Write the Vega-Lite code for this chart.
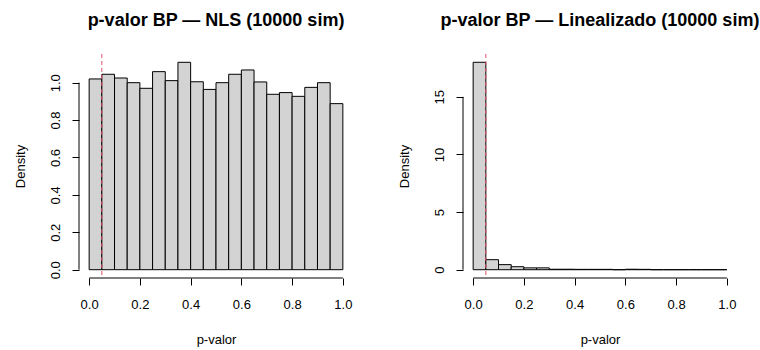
{
  "$schema": "https://vega.github.io/schema/vega-lite/v6.json",
  "background": "white",
  "padding": {"left": 14, "top": 11, "right": 5, "bottom": 5},
  "bounds": "flush",
  "spacing": 110,
  "config": {
    "view": {"stroke": null},
    "font": "Liberation Sans",
    "axis": {"grid": false, "domain": false, "tickColor": "black", "tickSize": 7, "labelFont": "Liberation Sans", "labelFontSize": 13, "labelColor": "black", "titleFont": "Liberation Sans", "titleFontSize": 13, "titleFontWeight": "normal", "titleColor": "black", "labelFlush": false, "labelOverlap": false},
    "axisX": {"labelPadding": 13, "titlePadding": 22},
    "axisY": {"labelAngle": 270, "labelAlign": "center", "labelBaseline": "bottom", "labelPadding": 10, "titlePadding": 22},
    "title": {"font": "Liberation Sans", "fontSize": 18, "fontWeight": "bold", "color": "black", "anchor": "middle", "offset": 24}
  },
  "datasets": {
    "nls": [
      {"bin_start": 0.00, "bin_end": 0.05, "density": 1.020},
      {"bin_start": 0.05, "bin_end": 0.10, "density": 1.045},
      {"bin_start": 0.10, "bin_end": 0.15, "density": 1.025},
      {"bin_start": 0.15, "bin_end": 0.20, "density": 1.000},
      {"bin_start": 0.20, "bin_end": 0.25, "density": 0.970},
      {"bin_start": 0.25, "bin_end": 0.30, "density": 1.059},
      {"bin_start": 0.30, "bin_end": 0.35, "density": 1.011},
      {"bin_start": 0.35, "bin_end": 0.40, "density": 1.109},
      {"bin_start": 0.40, "bin_end": 0.45, "density": 1.005},
      {"bin_start": 0.45, "bin_end": 0.50, "density": 0.964},
      {"bin_start": 0.50, "bin_end": 0.55, "density": 1.000},
      {"bin_start": 0.55, "bin_end": 0.60, "density": 1.045},
      {"bin_start": 0.60, "bin_end": 0.65, "density": 1.068},
      {"bin_start": 0.65, "bin_end": 0.70, "density": 1.004},
      {"bin_start": 0.70, "bin_end": 0.75, "density": 0.938},
      {"bin_start": 0.75, "bin_end": 0.80, "density": 0.947},
      {"bin_start": 0.80, "bin_end": 0.85, "density": 0.927},
      {"bin_start": 0.85, "bin_end": 0.90, "density": 0.975},
      {"bin_start": 0.90, "bin_end": 0.95, "density": 1.000},
      {"bin_start": 0.95, "bin_end": 1.00, "density": 0.888}
    ],
    "lin": [
      {"bin_start": 0.00, "bin_end": 0.05, "density": 18.0},
      {"bin_start": 0.05, "bin_end": 0.10, "density": 0.87},
      {"bin_start": 0.10, "bin_end": 0.15, "density": 0.44},
      {"bin_start": 0.15, "bin_end": 0.20, "density": 0.26},
      {"bin_start": 0.20, "bin_end": 0.25, "density": 0.16},
      {"bin_start": 0.25, "bin_end": 0.30, "density": 0.16},
      {"bin_start": 0.30, "bin_end": 0.35, "density": 0.04},
      {"bin_start": 0.35, "bin_end": 0.40, "density": 0.04},
      {"bin_start": 0.40, "bin_end": 0.45, "density": 0.03},
      {"bin_start": 0.45, "bin_end": 0.50, "density": 0.03},
      {"bin_start": 0.50, "bin_end": 0.55, "density": 0.03},
      {"bin_start": 0.55, "bin_end": 0.60, "density": 0.0},
      {"bin_start": 0.60, "bin_end": 0.65, "density": 0.04},
      {"bin_start": 0.65, "bin_end": 0.70, "density": 0.03},
      {"bin_start": 0.70, "bin_end": 0.75, "density": 0.0},
      {"bin_start": 0.75, "bin_end": 0.80, "density": 0.0},
      {"bin_start": 0.80, "bin_end": 0.85, "density": 0.0},
      {"bin_start": 0.85, "bin_end": 0.90, "density": 0.0},
      {"bin_start": 0.90, "bin_end": 0.95, "density": 0.0},
      {"bin_start": 0.95, "bin_end": 1.00, "density": 0.0}
    ]
  },
  "hconcat": [
    {
      "width": 274,
      "height": 224,
      "title": "p-valor BP — NLS (10000 sim)",
      "layer": [
        {
          "data": {"name": "nls"},
          "mark": {"type": "rect", "fill": "#D3D3D3", "stroke": "black", "strokeWidth": 1},
          "encoding": {
            "x": {"field": "bin_start", "type": "quantitative", "scale": {"domain": [-0.04, 1.04], "nice": false, "zero": false}, "axis": {"values": [0, 0.2, 0.4, 0.6, 0.8, 1], "format": ".1f", "title": "p-valor"}},
            "x2": {"field": "bin_end"},
            "y": {"field": "density", "type": "quantitative", "scale": {"domain": [-0.0444, 1.1534], "nice": false, "zero": false}, "axis": {"values": [0, 0.2, 0.4, 0.6, 0.8, 1], "format": ".1f", "title": "Density"}},
            "y2": {"datum": 0}
          }
        },
        {
          "data": {"values": [{}]},
          "mark": {"type": "rule", "stroke": "#DF536B", "strokeWidth": 1, "strokeDash": [4, 3]},
          "encoding": {"x": {"datum": 0.05}}
        },
        {
          "data": {"values": [{}]},
          "mark": {"type": "rule", "stroke": "black", "strokeWidth": 1},
          "encoding": {"x": {"datum": 0}, "x2": {"datum": 1}, "y": {"datum": -0.0444}}
        },
        {
          "data": {"values": [{}]},
          "mark": {"type": "rule", "stroke": "black", "strokeWidth": 1},
          "encoding": {"x": {"datum": -0.04}, "y": {"datum": 0}, "y2": {"datum": 1}}
        }
      ]
    },
    {
      "width": 274,
      "height": 224,
      "title": "p-valor BP — Linealizado (10000 sim)",
      "layer": [
        {
          "data": {"name": "lin"},
          "mark": {"type": "rect", "fill": "#D3D3D3", "stroke": "black", "strokeWidth": 1},
          "encoding": {
            "x": {"field": "bin_start", "type": "quantitative", "scale": {"domain": [-0.04, 1.04], "nice": false, "zero": false}, "axis": {"values": [0, 0.2, 0.4, 0.6, 0.8, 1], "format": ".1f", "title": "p-valor"}},
            "x2": {"field": "bin_end"},
            "y": {"field": "density", "type": "quantitative", "scale": {"domain": [-0.72, 18.72], "nice": false, "zero": false}, "axis": {"values": [0, 5, 10, 15], "format": "d", "title": "Density"}},
            "y2": {"datum": 0}
          }
        },
        {
          "data": {"values": [{}]},
          "mark": {"type": "rule", "stroke": "#DF536B", "strokeWidth": 1, "strokeDash": [4, 3]},
          "encoding": {"x": {"datum": 0.05}}
        },
        {
          "data": {"values": [{}]},
          "mark": {"type": "rule", "stroke": "black", "strokeWidth": 1},
          "encoding": {"x": {"datum": 0}, "x2": {"datum": 1}, "y": {"datum": -0.72}}
        },
        {
          "data": {"values": [{}]},
          "mark": {"type": "rule", "stroke": "black", "strokeWidth": 1},
          "encoding": {"x": {"datum": -0.04}, "y": {"datum": 0}, "y2": {"datum": 15}}
        }
      ]
    }
  ]
}
